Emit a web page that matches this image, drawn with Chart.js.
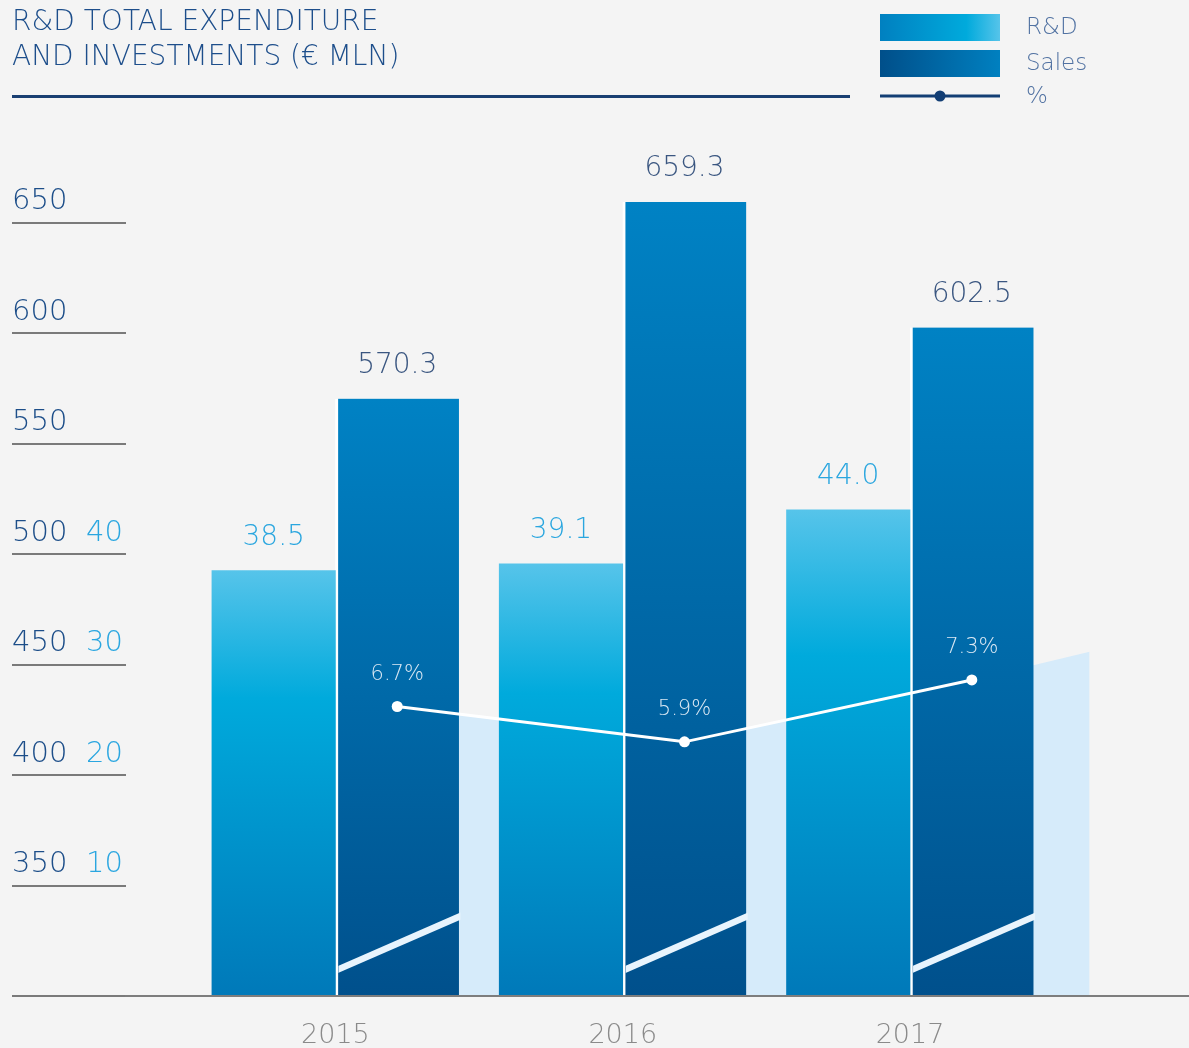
<!DOCTYPE html>
<html>
<head>
<meta charset="utf-8">
<script src="https://cdn.jsdelivr.net/npm/chart.js@4.4.1/dist/chart.umd.min.js"></script>
<style>
  html, body { margin: 0; padding: 0; background: #f4f4f4; }
  #wrap { width: 1189px; height: 1048px; position: relative; }
</style>
</head>
<body>
<div id="wrap"><canvas id="rdChart"></canvas></div>
<script>
const years = ['2015', '2016', '2017'];
const rdValues = [38.5, 39.1, 44.0];
const salesValues = [570.3, 659.3, 602.5];
const pctValues = [6.7, 5.9, 7.3];
// pale band behind the bars, it carries on past 2017
const bandX = [2015, 2016, 2017, 2017.41];
const bandValues = [6.7, 5.9, 7.3, 7.94];
const salesTicks = [300, 350, 400, 450, 500, 550, 600, 650];
const rdTicks = [0, 10, 20, 30, 40, 50, 60, 70];
const rdLabelMax = 40;

const FONT = '"DejaVu Sans", sans-serif';
const xMin = 2014.271, xMax = 2017.971;
const halfBar = 0.215;   // half a bar, in years
const barWidth = 123.5;

const rdStops = [[0, '#56c4ea'], [0.3, '#00aadc'], [1, '#0079b9']];
const salesStops = [[0, '#0082c4'], [1, '#00508c']];

function barGradient(ctx, stops) {
    const chart = ctx.chart;
    const area = chart.chartArea;
    if (!area || ctx.type !== 'data' || !ctx.parsed) return stops[0][1];
    const yScale = chart.scales[ctx.dataset.yAxisID];
    const top = yScale.getPixelForValue(ctx.parsed.y);
    const g = chart.ctx.createLinearGradient(0, top, 0, area.bottom);
    stops.forEach(s => g.addColorStop(s[0], s[1]));
    return g;
}

function yearTicks(s) {
    s.ticks = years.map(y => ({ value: +y }));
}

// slanted stripe at the foot of each sales bar, then the value labels
const labelPlugin = {
    id: 'labels',
    afterDatasetsDraw(chart) {
        const c = chart.ctx;
        const bottom = chart.chartArea.bottom;
        chart.data.datasets.forEach((ds, i) => {
            if (ds.label !== 'Sales') return;
            chart.getDatasetMeta(i).data.forEach(bar => {
                const base = Math.min(bar.base, bottom);
                const l = bar.x - bar.width / 2 + 3, r = bar.x + bar.width / 2;
                c.save();
                c.beginPath();
                c.rect(l, bar.y, r - l + 1.5, base - bar.y);
                c.clip();
                c.strokeStyle = '#e8f4fd';
                c.lineWidth = 6.5;
                c.beginPath();
                c.moveTo(l - 4, base - 25);
                c.lineTo(r + 4, base - 81);
                c.stroke();
                c.restore();
            });
        });

        c.save();
        c.textAlign = 'center';
        c.textBaseline = 'middle';
        chart.data.datasets.forEach((ds, i) => {
            const meta = chart.getDatasetMeta(i);
            if (ds.label === 'R&D' || ds.label === 'Sales') {
                c.font = '200 28px ' + FONT;
                c.fillStyle = ds.label === 'R&D' ? '#2aa6df' : '#3a5680';
                meta.data.forEach((el, j) => {
                    c.fillText(ds.data[j].toFixed(1), el.x, el.y - 33);
                });
            } else if (ds.label === '%') {
                c.font = '200 21px ' + FONT;
                c.fillStyle = '#dbe9f4';
                meta.data.forEach((el, j) => {
                    c.fillText(ds.data[j].toFixed(1) + '%', el.x, el.y - 32);
                });
            }
        });
        c.restore();
    }
};

// rule under the title and the legend on the right
const headerPlugin = {
    id: 'header',
    afterDraw(chart) {
        const c = chart.ctx;
        c.save();
        c.fillStyle = '#1a3f72';
        c.fillRect(12, 95, 838, 3);

        const items = chart.data.datasets.filter(d => d.label !== 'band');
        items.forEach((d, i) => {
            const y = 14 + i * 36;
            if (d.type === 'line') {
                c.strokeStyle = '#123e74';
                c.lineWidth = 3;
                c.beginPath();
                c.moveTo(880, 96);
                c.lineTo(1000, 96);
                c.stroke();
                c.fillStyle = '#123e74';
                c.beginPath();
                c.arc(940, 96, 5.5, 0, Math.PI * 2);
                c.fill();
            } else {
                const g = c.createLinearGradient(880, 0, 1000, 0);
                const stops = d.label === 'R&D'
                    ? [[0, '#0080c0'], [0.72, '#00aadc'], [1, '#56c4ea']]
                    : [[0, '#004f8a'], [1, '#0080c0']];
                stops.forEach(s => g.addColorStop(s[0], s[1]));
                c.fillStyle = g;
                c.fillRect(880, y, 120, 27);
            }
            c.font = '200 23px ' + FONT;
            c.fillStyle = '#5172a2';
            c.textAlign = 'left';
            c.textBaseline = 'middle';
            c.fillText(d.label, 1026, d.type === 'line' ? 97 : y + 14.5);
        });
        c.restore();
    }
};

const ctx = document.getElementById('rdChart').getContext('2d');
new Chart(ctx, {
    type: 'bar',
    data: {
        labels: years,
        datasets: [
            {
                label: 'R&D',
                data: rdValues,
                xAxisID: 'xr',
                yAxisID: 'yRd',
                backgroundColor: c => barGradient(c, rdStops),
                borderWidth: 0,
                grouped: false,
                barThickness: barWidth,
                order: 2
            },
            {
                label: 'Sales',
                data: salesValues,
                xAxisID: 'xs',
                yAxisID: 'ySales',
                backgroundColor: c => barGradient(c, salesStops),
                borderColor: '#ffffff',
                borderWidth: { left: 3, right: 0, top: 0, bottom: 0 },
                borderSkipped: false,
                grouped: false,
                barThickness: barWidth,
                order: 2
            },
            {
                type: 'line',
                label: '%',
                data: pctValues,
                xAxisID: 'xs',
                yAxisID: 'yp',
                borderColor: '#ffffff',
                borderWidth: 3,
                pointRadius: 5.5,
                pointBackgroundColor: '#ffffff',
                pointBorderWidth: 0,
                fill: false,
                order: 1
            },
            {
                type: 'line',
                label: 'band',
                data: bandX.map((x, i) => ({ x: x, y: bandValues[i] })),
                xAxisID: 'xs',
                yAxisID: 'yp',
                backgroundColor: '#d6ebfa',
                borderWidth: 0,
                pointRadius: 0,
                fill: 'start',
                order: 3
            }
        ]
    },
    options: {
        responsive: true,
        maintainAspectRatio: false,
        animation: false,
        events: [],
        layout: { autoPadding: false, padding: { left: 12, right: 0, top: 0, bottom: 0 } },
        plugins: {
            legend: { display: false },
            tooltip: { enabled: false },
            title: {
                display: true,
                align: 'start',
                text: ['R&D TOTAL EXPENDITURE', 'AND INVESTMENTS (€ MLN)'],
                color: '#1d4e8b',
                font: { family: FONT, size: 28, weight: 200, lineHeight: 1.25 },
                padding: { top: 5, bottom: 37 }
            }
        },
        scales: {
            x: {
                type: 'linear',
                position: 'bottom',
                offset: false,
                min: xMin,
                max: xMax,
                afterBuildTicks: yearTicks,
                afterFit: s => { s.height = 52; },
                ticks: {
                    callback: v => String(v),
                    autoSkip: false,
                    maxRotation: 0,
                    color: '#8a8a8a',
                    padding: 16,
                    font: { family: FONT, size: 27, weight: 200 }
                },
                grid: { display: false, offset: false },
                border: { display: true, color: '#7d7d7d', width: 2, z: 1 }
            },
            xr: {
                type: 'linear',
                axis: 'x',
                position: 'bottom',
                display: false,
                offset: false,
                grid: { offset: false },
                afterBuildTicks: yearTicks,
                min: xMin + halfBar,
                max: xMax + halfBar
            },
            xs: {
                type: 'linear',
                axis: 'x',
                position: 'bottom',
                display: false,
                offset: false,
                grid: { offset: false },
                afterBuildTicks: yearTicks,
                min: xMin - halfBar,
                max: xMax - halfBar
            },
            ySales: {
                type: 'linear',
                position: 'left',
                weight: 1,
                min: 300,
                max: 700,
                afterBuildTicks: s => { s.ticks = salesTicks.map(v => ({ value: v })); },
                afterFit: s => { s.width = 74; },
                ticks: {
                    callback: v => (v === salesTicks[0] ? '' : String(v)),
                    crossAlign: 'far',
                    labelOffset: -21,
                    color: '#1d4e89',
                    font: { family: FONT, size: 29, weight: 200 }
                },
                grid: { drawOnChartArea: false, tickLength: 74, color: '#7a7a7a', lineWidth: 2 },
                border: { display: false }
            },
            yRd: {
                type: 'linear',
                position: 'left',
                weight: 0,
                min: 0,
                max: 80,
                afterBuildTicks: s => { s.ticks = rdTicks.map(v => ({ value: v })); },
                afterFit: s => { s.width = 40; },
                ticks: {
                    callback: v => (v > 0 && v <= rdLabelMax ? String(v) : ''),
                    crossAlign: 'far',
                    labelOffset: -21,
                    color: '#2aa6e0',
                    font: { family: FONT, size: 29, weight: 200 }
                },
                grid: { drawOnChartArea: false, tickLength: 40, color: '#7a7a7a', lineWidth: 2 },
                border: { display: false }
            },
            yp: {
                type: 'linear',
                position: 'right',
                display: false,
                min: 0.15,
                max: 20.15
            }
        }
    },
    plugins: [labelPlugin, headerPlugin]
});
</script>
</body>
</html>
